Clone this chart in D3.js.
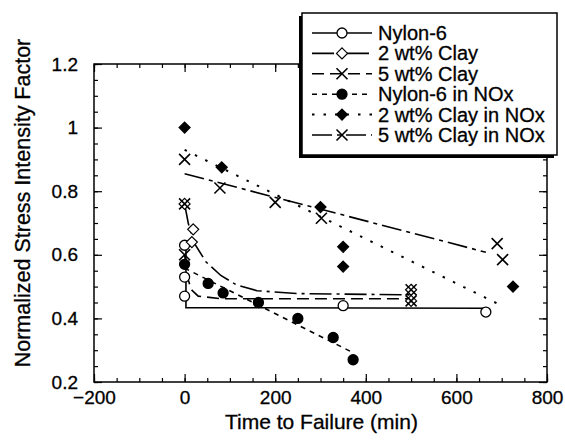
<!DOCTYPE html>
<html><head><meta charset="utf-8">
<script src="https://cdn.jsdelivr.net/npm/d3@7"></script>
<style>body{margin:0;background:#fff}svg{display:block}text{font-family:"Liberation Sans",Arial,sans-serif;fill:#000;stroke:#000;stroke-width:0.3px}</style>
</head><body><svg id="c" width="565" height="441"></svg>
<script>
// ---- data ----
const seriesNames = ["Nylon-6","2 wt% Clay","5 wt% Clay","Nylon-6 in NOx","2 wt% Clay in NOx","5 wt% Clay in NOx"];
const nylon6 = [[0,0.63],[0,0.53],[0,0.47],[350,0.44],[665,0.42]];
const clay2 = [[0,0.76],[19,0.68],[16,0.64],[500,0.49],[500,0.455]];
const clay5 = [[0,0.76],[0,0.60],[500,0.49],[500,0.455]];
const nylon6NOx = [[0,0.57],[52,0.51],[85,0.48],[163,0.45],[250,0.40],[328,0.34],[372,0.27]];
const clay2NOx = [[0,1.0],[82,0.875],[300,0.75],[350,0.625],[350,0.563],[725,0.50]];
const clay5NOx = [[0,0.90],[78,0.81],[200,0.765],[302,0.715],[690,0.635],[702,0.585]];
// fitted curves
const nylon6Fit = [[3,0.64],[3,0.434],[665,0.432]];
const clay2Fit = [[0,0.76],[8,0.70],[20,0.64],[47,0.578],[80,0.535],[115,0.505],[160,0.487],[250,0.478],[500,0.474]];
const clay5Fit = [[0,0.60],[6,0.53],[15,0.49],[30,0.47],[80,0.462],[500,0.462]];
const nylon6NOxFit = [[0,0.558],[375,0.29]];
const clay2NOxFit = [[0,0.93],[700,0.44]];
const clay5NOxFit = [[0,0.855],[665,0.608]];
const xTicks = [-200,0,200,400,600,800];
const yTicks = [0.2,0.4,0.6,0.8,1,1.2];
const xMinor = d3.range(-200,801,50);
const yMinor = d3.range(0.2,1.2001,0.05);

const svg = d3.select("#c");
const L=94,R=547,T=64,B=382;
const x = d3.scaleLinear().domain([-200,800]).range([L,R]);
const y = d3.scaleLinear().domain([0.2,1.2]).range([B,T]);

const styles = [
  {data:nylon6, fit:nylon6Fit, dash:null, marker:"circle", fill:"#fff", w:1.6},
  {data:clay2, fit:clay2Fit, dash:"22,5,3,5", marker:"diamond", fill:"#fff", w:1.6},
  {data:clay5, fit:clay5Fit, dash:"12,6", marker:"x", fill:"none", w:1.6},
  {data:nylon6NOx, fit:nylon6NOxFit, dash:"5,5", marker:"circle", fill:"#000", w:1.6},
  {data:clay2NOx, fit:clay2NOxFit, dash:"2.5,9", marker:"diamond", fill:"#000", w:2},
  {data:clay5NOx, fit:clay5NOxFit, dash:"20,5,4,5", marker:"x", fill:"none", w:1.6}
];

// frame
svg.append("rect").attr("x",L).attr("y",T).attr("width",R-L).attr("height",B-T)
  .attr("fill","none").attr("stroke","#000").attr("stroke-width",1.5);

function axisG(axis, tx, ty){
  const g = svg.append("g").attr("transform",`translate(${tx},${ty})`).call(axis);
  g.select(".domain").remove();
  g.selectAll("line").attr("stroke","#000").attr("stroke-width",1.2);
  g.selectAll("text").style("font-size","19px");
  return g;
}
axisG(d3.axisBottom(x).tickValues(xTicks).tickSize(-8).tickPadding(9).tickFormat(d3.format("d")),0,B);
axisG(d3.axisBottom(x).tickValues(xMinor).tickSize(-4).tickFormat(""),0,B);
axisG(d3.axisTop(x).tickValues(xTicks).tickSize(-8).tickFormat(""),0,T);
axisG(d3.axisTop(x).tickValues(xMinor).tickSize(-4).tickFormat(""),0,T);
axisG(d3.axisLeft(y).tickValues(yTicks).tickSize(-8).tickPadding(16).tickFormat(d=>d3.format("")(+d.toFixed(1))),L,0);
axisG(d3.axisLeft(y).tickValues(yMinor).tickSize(-4).tickFormat(""),L,0);
axisG(d3.axisRight(y).tickValues(yTicks).tickSize(-8).tickFormat(""),R,0);
axisG(d3.axisRight(y).tickValues(yMinor).tickSize(-4).tickFormat(""),R,0);

svg.append("text").attr("x",(L+R)/2+1).attr("y",429).attr("text-anchor","middle")
  .style("font-size","21px").text("Time to Failure (min)");
svg.append("text").attr("transform","translate(30,203) rotate(-90)").attr("text-anchor","middle")
  .style("font-size","21.5px").text("Normalized Stress Intensity Factor");

const line = d3.line().x(d=>x(d[0])).y(d=>y(d[1]));
const plot = svg.append("g");
styles.forEach(s=>{
  plot.append("path").attr("d",line(s.fit)).attr("fill","none").attr("stroke","#000")
    .attr("stroke-width",s.w).attr("stroke-dasharray",s.dash);
});
function drawMarker(g, type, fill, cx, cy){
  if(type==="circle") g.append("circle").attr("cx",cx).attr("cy",cy).attr("r",5)
      .attr("fill",fill).attr("stroke","#000").attr("stroke-width",1.3);
  else if(type==="diamond") g.append("path").attr("d",`M${cx},${cy-5.5}L${cx+5.5},${cy}L${cx},${cy+5.5}L${cx-5.5},${cy}Z`)
      .attr("fill",fill).attr("stroke","#000").attr("stroke-width",1.2);
  else g.append("path").attr("d",`M${cx-5.5},${cy-5.5}L${cx+5.5},${cy+5.5}M${cx-5.5},${cy+5.5}L${cx+5.5},${cy-5.5}`)
      .attr("stroke","#000").attr("stroke-width",1.6).attr("fill","none");
}
styles.forEach(s=>{
  s.data.forEach(d=>drawMarker(plot,s.marker,s.fill,x(d[0]),y(d[1])));
});

// legend
const lg = svg.append("g");
const lx=302, ly=13, lw=255, lh=142;
lg.append("rect").attr("x",lx-3).attr("y",ly+3).attr("width",lw).attr("height",lh).attr("fill","#000");
lg.append("rect").attr("x",lx).attr("y",ly).attr("width",lw).attr("height",lh)
  .attr("fill","#fff").attr("stroke","#000").attr("stroke-width",1.5);
seriesNames.forEach((n,i)=>{
  const cy = 33 + i*20.4;
  const s = styles[i];
  lg.append("line").attr("x1",312).attr("x2",372).attr("y1",cy).attr("y2",cy)
    .attr("stroke","#000").attr("stroke-width",s.w).attr("stroke-dasharray",s.dash);
  drawMarker(lg,s.marker,s.fill,342,cy);
  lg.append("text").attr("x",378).attr("y",cy+7).style("font-size","20px").text(n);
});
</script></body></html>
